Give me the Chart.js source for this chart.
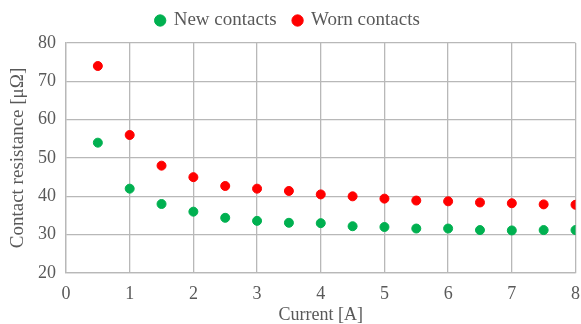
<!DOCTYPE html>
<html>
<head>
<meta charset="utf-8">
<script src="https://cdn.jsdelivr.net/npm/chart.js@4"></script>
<style>
  html, body { margin: 0; padding: 0; background: #fff; }
  #wrap { width: 581px; height: 324px; }
</style>
</head>
<body>
<div id="wrap"><canvas id="grafica"></canvas></div>
<script>
// Datos
const corriente = [0.5, 1, 1.5, 2, 2.5, 3, 3.5, 4, 4.5, 5, 5.5, 6, 6.5, 7, 7.5, 8];
const contactosNuevos = [54, 42, 38, 36, 34.4, 33.6, 33.1, 33, 32.2, 32, 31.6, 31.6, 31.2, 31.1, 31.2, 31.2];
const contactosGastados = [74, 56, 48, 45, 42.7, 42, 41.4, 40.5, 40, 39.4, 38.9, 38.7, 38.4, 38.2, 37.9, 37.8];
const etiquetas = ['New contacts', 'Worn contacts'];

const fuente = 'Liberation Serif';
const gris = '#595959';
const rejilla = '#b8b8b8';

function puntos(ys) {
    return corriente.map((x, i) => ({ x: x, y: ys[i] }));
}

// Un poco mas de espacio debajo de la leyenda
const espacioLeyenda = {
    id: 'espacioLeyenda',
    afterInit(chart) {
        const fitOriginal = chart.legend.fit;
        chart.legend.fit = function () {
            fitOriginal.call(this);
            this.height += 3;
        };
    }
};

new Chart(document.getElementById('grafica'), {
    type: 'scatter',
    data: {
        datasets: [
            {
                label: etiquetas[0],
                data: puntos(contactosNuevos),
                backgroundColor: '#00b050',
                borderColor: '#00b050',
                pointRadius: 4.5
            },
            {
                label: etiquetas[1],
                data: puntos(contactosGastados),
                backgroundColor: '#ff0000',
                borderColor: '#ff0000',
                pointRadius: 4.5
            }
        ]
    },
    options: {
        responsive: true,
        maintainAspectRatio: false,
        animation: false,
        layout: { padding: { left: 0, right: 5, top: -6, bottom: 0 } },
        scales: {
            x: {
                type: 'linear',
                min: 0,
                max: 8,
                ticks: { stepSize: 1, color: gris, font: { family: fuente, size: 18 }, padding: 10 },
                grid: { color: rejilla, drawTicks: false, lineWidth: 1.3 },
                border: { color: rejilla, width: 1.3 },
                title: { display: true, text: 'Current [A]', color: gris, font: { family: fuente, size: 18 }, padding: { top: 0, bottom: -2 } },
                afterFit: (s) => { s.height = 51; s.paddingRight = 0; s.paddingLeft = 0; }
            },
            y: {
                min: 20,
                max: 80,
                ticks: { stepSize: 10, color: gris, font: { family: fuente, size: 18 }, padding: 10 },
                grid: { color: rejilla, drawTicks: false, lineWidth: 1.3 },
                border: { color: rejilla, width: 1.3 },
                title: { display: true, text: 'Contact resistance [μΩ]', color: gris, font: { family: fuente, size: 19 }, padding: { top: 7, bottom: 0 } },
                afterFit: (s) => { s.width = 66; }
            }
        },
        plugins: {
            legend: {
                position: 'top',
                labels: {
                    usePointStyle: true,
                    pointStyle: 'circle',
                    boxWidth: 8,
                    boxHeight: 8,
                    color: gris,
                    font: { family: fuente, size: 19 },
                    padding: 17
                }
            },
            tooltip: { enabled: false }
        }
    },
    plugins: [espacioLeyenda]
});
</script>
</body>
</html>
